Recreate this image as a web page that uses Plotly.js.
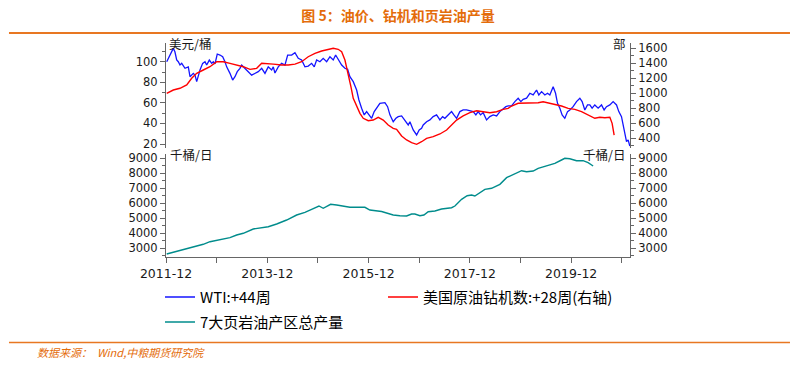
<!DOCTYPE html>
<html><head><meta charset="utf-8">
<script src="https://cdn.plot.ly/plotly-3.0.1.min.js"></script>
<style>html,body{margin:0;padding:0;background:#fff}#chart{width:800px;height:367px}</style>
</head><body><div id="chart"></div>
<script>
// ---- data (x in decimal years) ----
const wtiName = 'WTI:+44周';
const rigName = '美国原油钻机数:+28周(右轴)';
const prodName = '7大页岩油产区总产量';

const wtiT = [
2011.931,2011.996,2012.061,2012.093,2012.128,2012.160,2012.193,2012.227,2012.292,2012.357,
2012.391,2012.456,2012.489,2012.523,2012.554,2012.588,2012.641,2012.687,2012.720,2012.772,
2012.819,2012.850,2012.884,2012.929,2012.983,2013.036,2013.081,2013.115,2013.180,2013.233,
2013.279,2013.324,2013.377,2013.411,2013.443,2013.496,2013.541,2013.608,2013.673,2013.739,
2013.806,2013.871,2013.936,2014.003,2014.035,2014.068,2014.133,2014.200,2014.266,2014.319,
2014.398,2014.463,2014.528,2014.595,2014.660,2014.725,2014.792,2014.844,2014.891,2014.956,
2015.021,2015.089,2015.154,2015.219,2015.266,2015.317,2015.385,2015.450,2015.503,2015.548,
2015.614,2015.681,2015.726,2015.779,2015.831,2015.878,2015.923,2015.977,2016.028,2016.075,
2016.140,2016.239,2016.292,2016.338,2016.403,2016.456,2016.502,2016.569,2016.634,2016.699,
2016.733,2016.798,2016.865,2016.916,2016.963,2016.995,2017.062,2017.127,2017.192,2017.259,
2017.325,2017.378,2017.423,2017.488,2017.555,2017.601,2017.654,2017.719,2017.784,2017.851,
2017.916,2017.982,2018.035,2018.080,2018.128,2018.179,2018.246,2018.311,2018.377,2018.444,
2018.509,2018.574,2018.627,2018.673,2018.740,2018.805,2018.870,2018.923,2018.969,2019.036,
2019.101,2019.166,2019.233,2019.278,2019.332,2019.397,2019.450,2019.495,2019.561,2019.608,
2019.647,2019.693,2019.738,2019.791,2019.845,2019.890,2019.955,2020.022,2020.088,2020.133,
2020.186,2020.239,2020.285,2020.330,2020.383,2020.449,2020.516,2020.567,2020.614,2020.680,
2020.745,2020.812,2020.857,2020.910,2020.950,2020.976,2021.009,2021.041,2021.074];
const wtiV = [
100,106.5,113,109.7,101.7,100,96.8,98.4,93.6,95,
85.4,88.7,87,80.6,87,92,98.4,100,96.8,101.6,
98.4,100,97.8,107.5,106.5,104.9,100,95,88.7,82.2,
85.4,90.3,93.6,96.8,95.1,92,90.3,87,88.7,90.3,
93.6,88.7,95,92,95,89,95,98.4,96.8,106.5,
106.5,108.7,103.3,101.7,95,95.8,98.4,95,101.7,100,
103.3,100,104.9,101.7,106.5,101.7,96.8,93.6,92.6,85.4,
80.6,72.5,62.8,54.8,48.3,51.5,48.3,45,51.5,54.8,
59.6,60.2,56.3,48.3,41.7,45,46.6,47.3,43.4,38.5,
41.7,33.7,28.8,33.7,35.3,38.5,41.7,43.4,46.6,48.3,
43.4,46.6,45,48.3,51.5,48.3,45,51.5,53.1,53.1,
52.4,51.5,48.3,51.5,48.3,50.5,43.4,46.6,48.3,47.3,
51.5,53.8,56.3,57,57,61.2,64.5,61.2,63.5,64.5,
69.3,67.7,72.5,67.7,70.9,67.7,69.3,67.7,75.7,69.3,
59.6,54.8,48.3,45,51.5,53.1,56.3,61.2,64.5,61.2,
53.1,58,58,54.8,58,54.8,58,53.1,56.3,58,
61.2,58,51.5,46.6,36.9,27.2,22.3,24,18];

const rigT = [
2011.931,2012.061,2012.193,2012.326,2012.424,2012.523,2012.653,2012.785,2012.918,2013.048,
2013.180,2013.312,2013.443,2013.575,2013.707,2013.806,2013.904,2014.035,2014.200,2014.331,
2014.463,2014.595,2014.725,2014.858,2014.990,2015.120,2015.219,2015.317,2015.385,2015.450,
2015.515,2015.568,2015.614,2015.681,2015.746,2015.811,2015.910,2016.008,2016.107,2016.206,
2016.304,2016.403,2016.470,2016.569,2016.667,2016.766,2016.865,2016.963,2017.062,2017.192,
2017.325,2017.457,2017.555,2017.654,2017.784,2017.916,2018.049,2018.179,2018.311,2018.444,
2018.574,2018.673,2018.740,2018.870,2019.002,2019.134,2019.265,2019.363,2019.462,2019.594,
2019.726,2019.857,2019.989,2020.121,2020.251,2020.383,2020.482,2020.581,2020.680,2020.725,
2020.765];
const rigV = [
1000,1044,1067,1111,1200,1267,1311,1355,1421,1421,
1400,1377,1355,1320,1333,1400,1400,1390,1377,1377,
1390,1421,1488,1533,1564,1587,1600,1587,1555,1444,
1267,1089,933,822,733,667,635,644,680,644,
578,533,520,431,378,342,320,355,400,422,
458,511,578,644,698,742,768,755,742,755,
787,800,831,867,867,867,875,888,875,857,
831,800,787,755,711,667,680,675,680,600,
444];

const prodT = [
2011.931,2012.061,2012.193,2012.391,2012.523,2012.653,2012.785,2012.983,2013.180,2013.312,
2013.443,2013.640,2013.772,2013.936,2014.102,2014.299,2014.496,2014.660,2014.792,2014.937,
2015.021,2015.167,2015.286,2015.548,2015.844,2015.943,2016.174,2016.304,2016.403,2016.535,
2016.667,2016.766,2016.831,2016.930,2017.009,2017.094,2017.226,2017.358,2017.555,2017.621,
2017.753,2017.863,2017.950,2018.015,2018.114,2018.213,2018.345,2018.509,2018.641,2018.771,
2018.937,2019.036,2019.166,2019.265,2019.430,2019.594,2019.726,2019.791,2019.890,2020.022,
2020.153,2020.251,2020.350];
const prodV = [
2620,2733,2840,3020,3153,3267,3440,3553,3707,3887,
4000,4287,4373,4440,4620,4887,5220,5400,5600,5820,
5667,5933,5887,5733,5733,5553,5450,5300,5220,5173,
5153,5287,5287,5173,5220,5440,5487,5620,5707,5820,
6267,6507,6553,6487,6733,6933,7000,7267,7707,7933,
8173,8107,8153,8333,8487,8667,8887,9000,8973,8840,
8840,8707,8487];

const xTickVals = [2011.917, 2013.917, 2015.917, 2017.917, 2019.917];
const xTickText = ['2011-12', '2013-12', '2015-12', '2017-12', '2019-12'];

// ---- styling ----
const NUM = '"DejaVu Sans", "Noto Sans", sans-serif';
const CJK = '"Noto Sans CJK SC", "Noto Sans", sans-serif';
const AX = '#666666';
const ORANGE = '#E46C0A';

function yStyle(extra) {
  return Object.assign({
    showline: true, linecolor: AX, linewidth: 1,
    ticks: 'outside', ticklen: 5, tickcolor: AX, tickwidth: 1,
    showgrid: false, zeroline: false,
    tickfont: {family: NUM, size: 11.5, color: '#1a1a1a'},
    fixedrange: true
  }, extra);
}

const traces = [
  {x: wtiT, y: wtiV, name: wtiName, type: 'scatter', mode: 'lines', xaxis: 'x', yaxis: 'y',
   line: {color: '#1414ff', width: 1.3}, legend: 'legend'},
  {x: rigT, y: rigV, name: rigName, type: 'scatter', mode: 'lines', xaxis: 'x', yaxis: 'y2',
   line: {color: '#ff0000', width: 1.4}, legend: 'legend3'},
  {x: prodT, y: prodV, name: prodName, type: 'scatter', mode: 'lines', xaxis: 'x', yaxis: 'y3',
   line: {color: '#008C8C', width: 1.4}, legend: 'legend2'},
  {x: [], y: [], type: 'scatter', mode: 'lines', xaxis: 'x', yaxis: 'y4', showlegend: false, hoverinfo: 'skip'}
];

const legFont = {family: CJK, size: 15, color: '#000'};

const layout = {
  width: 800, height: 367,
  margin: {l: 166, r: 170, t: 43, b: 110},
  paper_bgcolor: '#ffffff', plot_bgcolor: '#ffffff',
  showlegend: true,
  title: {text: '图 5：油价、钻机和页岩油产量', x: 0.5, xanchor: 'center', xref: 'paper',
          y: 1 - 16/367, yref: 'container', yanchor: 'middle',
          font: {family: CJK, size: 14, color: ORANGE, weight: 'bold'}},
  xaxis: {
    anchor: 'y3', range: [2011.917, 2021.078],
    tickmode: 'array', tickvals: xTickVals, ticktext: xTickText,
    showline: true, linecolor: AX, linewidth: 1,
    ticks: 'outside', ticklen: 5, tickcolor: AX,
    minor: {tickmode: 'linear', tick0: 2011.917, dtick: 1, ticks: 'outside', ticklen: 5, tickcolor: AX},
    showgrid: false, zeroline: false,
    tickfont: {family: NUM, size: 12.5, color: '#1a1a1a'}, fixedrange: true
  },
  yaxis: yStyle({domain: [0.5093, 1], range: [16.1, 118.2], anchor: 'x',
    tickmode: 'linear', tick0: 0, dtick: 20,
    minor: {tickmode: 'linear', tick0: 0, dtick: 10, ticks: 'outside', ticklen: 3, tickcolor: AX}}),
  yaxis2: yStyle({overlaying: 'y', side: 'right', anchor: 'x', range: [271, 1671],
    tickmode: 'linear', tick0: 0, dtick: 200,
    minor: {tickmode: 'linear', tick0: 0, dtick: 100, ticks: 'outside', ticklen: 3, tickcolor: AX}}),
  yaxis3: yStyle({domain: [0, 0.4813], range: [2420, 9287], anchor: 'x',
    tickmode: 'linear', tick0: 0, dtick: 1000,
    minor: {tickmode: 'linear', tick0: 0, dtick: 500, ticks: 'outside', ticklen: 3, tickcolor: AX}}),
  yaxis4: yStyle({overlaying: 'y3', side: 'right', anchor: 'x', range: [2420, 9287],
    tickmode: 'linear', tick0: 0, dtick: 1000,
    minor: {tickmode: 'linear', tick0: 0, dtick: 500, ticks: 'outside', ticklen: 3, tickcolor: AX}}),
  legend: {orientation: 'h', x: (160 - 166) / 464, xanchor: 'left', y: (257 - 280.75) / 214, yanchor: 'top',
    itemwidth: 30, font: legFont, bgcolor: 'rgba(0,0,0,0)', borderwidth: 0},
  legend3: {orientation: 'h', x: (383 - 166) / 464, xanchor: 'left', y: (257 - 280.75) / 214, yanchor: 'top',
    itemwidth: 30, font: legFont, bgcolor: 'rgba(0,0,0,0)', borderwidth: 0},
  legend2: {orientation: 'h', x: (160 - 166) / 464, xanchor: 'left', y: (257 - 305.75) / 214, yanchor: 'top',
    itemwidth: 30, font: legFont, bgcolor: 'rgba(0,0,0,0)', borderwidth: 0},
  shapes: [
    {type: 'line', xref: 'paper', yref: 'paper', x0: -0.3384, x1: 1.3448, y0: 1.0467, y1: 1.0467,
     line: {color: '#E87722', width: 2.2}},
    {type: 'line', xref: 'paper', yref: 'paper', x0: -0.3384, x1: 1.3448, y0: -0.3995, y1: -0.3995,
     line: {color: '#E87722', width: 1.6}}
  ],
  annotations: [
    {text: '美元/桶', xref: 'paper', yref: 'paper', x: 0.002, y: (257 - 43) / 214, xanchor: 'left', yanchor: 'middle',
     showarrow: false, font: {family: CJK, size: 12.5, color: '#1a1a1a'}},
    {text: '部', xref: 'paper', yref: 'paper', x: 0.9957, y: (257 - 43) / 214, xanchor: 'right', yanchor: 'middle',
     showarrow: false, font: {family: CJK, size: 12.5, color: '#1a1a1a'}},
    {text: '千桶/日', xref: 'paper', yref: 'paper', x: 0.0043, y: (257 - 154) / 214, xanchor: 'left', yanchor: 'middle',
     showarrow: false, font: {family: CJK, size: 12.5, color: '#1a1a1a'}},
    {text: '千桶/日', xref: 'paper', yref: 'paper', x: 0.9935, y: (257 - 154) / 214, xanchor: 'right', yanchor: 'middle',
     showarrow: false, font: {family: CJK, size: 12.5, color: '#1a1a1a'}},
    {text: '数据来源：  Wind,中粮期货研究院', xref: 'paper', yref: 'paper', x: (35 - 166) / 464, y: (257 - 352) / 214,
     xanchor: 'left', yanchor: 'middle', showarrow: false,
     font: {family: CJK, size: 11, color: ORANGE, style: 'italic'}}
  ]
};

Plotly.newPlot('chart', traces, layout, {displayModeBar: false, staticPlot: true});
</script>
</body></html>
